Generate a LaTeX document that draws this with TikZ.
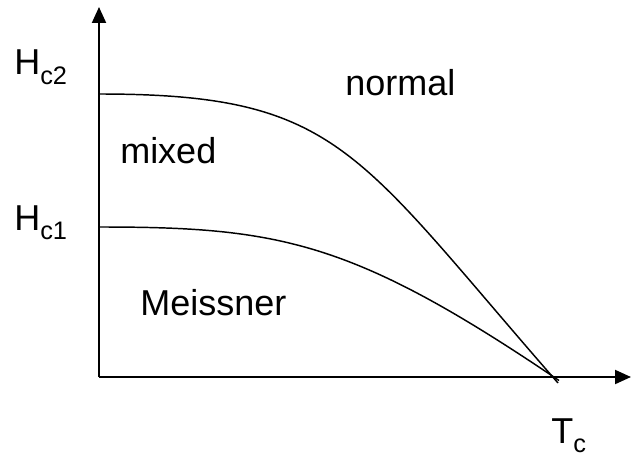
\documentclass[tikz,border=0pt]{standalone}
\usepackage{fontspec}
\setmainfont{Liberation Sans}
\usetikzlibrary{arrows.meta}
\tikzset{
  axisline/.style={line width=1.5pt, -{Triangle[length=12pt, width=10.5pt]}},
  phaseline/.style={line width=1.1pt},
  phaselbl/.style={anchor=base west, inner sep=0pt, font=\fontsize{27}{30}\selectfont},
}
\newcommand{\lowsub}[1]{\raisebox{-7pt}{\fontsize{19}{20}\selectfont #1}}

\begin{document}
\begin{tikzpicture}[x=0.75pt, y=-0.75pt]
\useasboundingbox (0,0) rectangle (631,456);

% ============================================================ axes
\coordinate (origin) at (99,377);
\coordinate (ytop) at (99,7);
\coordinate (xend) at (631,377);
\draw[axisline] (origin) -- (ytop);
\draw[axisline] (origin) -- (xend);

% ============================================================ critical fields
\coordinate (hcii) at (99,94);
\coordinate (hci) at (99,227);
\coordinate (tcii) at (558,383);
\coordinate (tci) at (559,380.5);
\draw[phaseline] (hcii) .. controls (340,94) and (355,151) .. (tcii);
\draw[phaseline] (hci) .. controls (280,227) and (353,241) .. (tci);

% ============================================================ labels
\node[phaselbl] (lblhcii) at (14,75) {H\lowsub{c2}};
\node[phaselbl] (lblhci) at (14,230) {H\lowsub{c1}};
\node[phaselbl] (lbltc) at (551,443) {T\lowsub{c}};
\node[phaselbl] (lblnormal) at (345,96) {normal};
\node[phaselbl] (lblmixed) at (120,163) {mixed};
\node[phaselbl] (lblmeissner) at (140,315) {Meissner};

\end{tikzpicture}
\end{document}
